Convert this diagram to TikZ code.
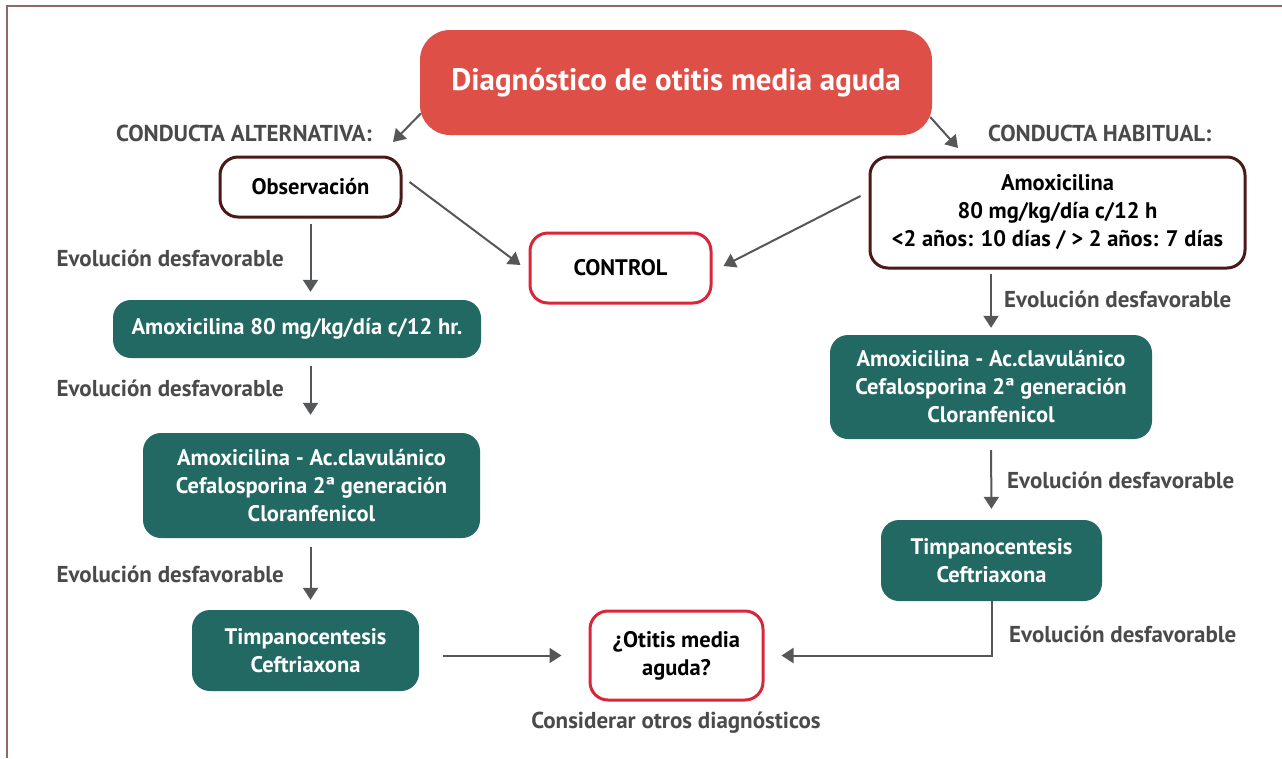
\documentclass[tikz,border=0pt]{standalone}
\usepackage{fontspec}
\setmainfont{PT Sans}
\usetikzlibrary{arrows.meta,calc}
\definecolor{titlered}{HTML}{DE4F47}
\definecolor{boxred}{HTML}{D9263A}
\definecolor{brownb}{HTML}{4A1A18}
\definecolor{teal}{HTML}{236963}
\definecolor{arrgray}{HTML}{555759}
\definecolor{labgray}{HTML}{4A4A4A}
\definecolor{framec}{HTML}{8E6A63}
\tikzset{
  base/.style={align=center, font=\bfseries\fontsize{22.5}{28}\selectfont, inner sep=0pt},
  tealbox/.style={base, fill=teal, text=white, rounded corners=18pt},
  brownbox/.style={base, draw=brownb, line width=3pt, fill=white, text=black, rounded corners=18pt},
  redbox/.style={base, draw=boxred, line width=3pt, fill=white, text=black, rounded corners=18pt},
  lab/.style={font=\bfseries\fontsize{23}{26}\selectfont, text=labgray, inner sep=0pt},
  arr/.style={draw=arrgray, line width=2pt, -{Triangle[length=12pt,width=15pt]}, arrgray},
}
\begin{document}
\begin{tikzpicture}[x=1pt,y=-1pt]
\useasboundingbox (0,0) rectangle (1282,758);
\fill[white] (0,0) rectangle (1282,758);
\draw[framec, line width=2pt] (7,758) -- (7,6) -- (1282,6);

\node[base, fill=titlered, text=white, rounded corners=30pt, minimum width=512pt, minimum height=105pt,
      font=\bfseries\fontsize{31}{36}\selectfont] (title) at (676,82.5) {Diagnóstico de otitis media aguda};

\node[lab, anchor=east] (alttxt) at (372,133) {CONDUCTA ALTERNATIVA:};
\node[lab, anchor=west] (habtxt) at (988,133) {CONDUCTA HABITUAL:};

\node[brownbox, minimum width=181pt, minimum height=60pt] (obs) at (310.5,187) {Observación};
\node[brownbox, minimum width=375pt, minimum height=111pt] (amoxR) at (1057.5,212.5)
  {Amoxicilina\\80 mg/kg/día c/12 h\\<2 años: 10 días / > 2 años: 7 días};
\node[redbox, minimum width=181pt, minimum height=70pt] (control) at (620.5,268) {CONTROL};

\node[tealbox, minimum width=368pt, minimum height=58pt] (L1) at (297,329) {Amoxicilina 80 mg/kg/día c/12 hr.};
\node[tealbox, minimum width=337pt, minimum height=105pt] (L2) at (311.5,485.5)
  {Amoxicilina - Ac.clavulánico\\Cefalosporina 2ª generación\\Cloranfenicol};
\node[tealbox, minimum width=227pt, minimum height=81pt] (L3) at (305.5,650.5) {Timpanocentesis\\Ceftriaxona};

\node[redbox, minimum width=173pt, minimum height=89pt] (otitis) at (676.5,655.5) {¿Otitis media\\aguda?};
\node[lab] (otros) at (676,723) {Considerar otros diagnósticos};

\node[tealbox, minimum width=322pt, minimum height=104pt] (R1) at (991,387)
  {Amoxicilina - Ac.clavulánico\\Cefalosporina 2ª generación\\Cloranfenicol};
\node[tealbox, minimum width=221pt, minimum height=81pt] (R2) at (991.5,560.5) {Timpanocentesis\\Ceftriaxona};

% labels
\node[lab, anchor=east] (ev1) at (284,258) {Evolución desfavorable};
\node[lab, anchor=east] (ev2) at (284,388) {Evolución desfavorable};
\node[lab, anchor=east] (ev3) at (284,574) {Evolución desfavorable};
\node[lab, anchor=west] (ev4) at (1004,299) {Evolución desfavorable};
\node[lab, anchor=west] (ev5) at (1007,480) {Evolución desfavorable};
\node[lab, anchor=west] (ev6) at (1009,634) {Evolución desfavorable};

% connectors
\coordinate (altend) at (393,142);
\coordinate (habend) at (958,148);
\draw[arr] ($(title.west)+(1,31)$) -- (altend);
\draw[arr] ($(title.east)+(-2,34.5)$) -- (habend);

\draw[arr, shorten <=5pt, shorten >=8pt] (obs.south) -- (obs.south |- L1.north);
\draw[arr, shorten <=8pt, shorten >=18pt] (obs.south |- L1.south) -- (obs.south |- L2.north);
\draw[arr, shorten <=9pt, shorten >=10pt] (obs.south |- L2.south) -- (obs.south |- L3.north);
\draw[arr, shorten <=24pt, shorten >=27pt] (L3.east |- otitis.west) -- (otitis.west);

\draw[arr] ($(obs.east)+(7,-5)$) -- ($(control.west)+(-8,-3)$);
\draw[arr] ($(amoxR.west)+(-8,-16.5)$) -- ($(control.east)+(11,-2)$);

\draw[arr, shorten <=4pt, shorten >=7pt] (R1.north |- amoxR.south) -- (R1.north);
\draw[arr, shorten <=11pt, shorten >=11pt] (R1.south) -- (R2.north);
\draw[arr, shorten >=17pt] (R2.south) |- (otitis.east);
\end{tikzpicture}
\end{document}
